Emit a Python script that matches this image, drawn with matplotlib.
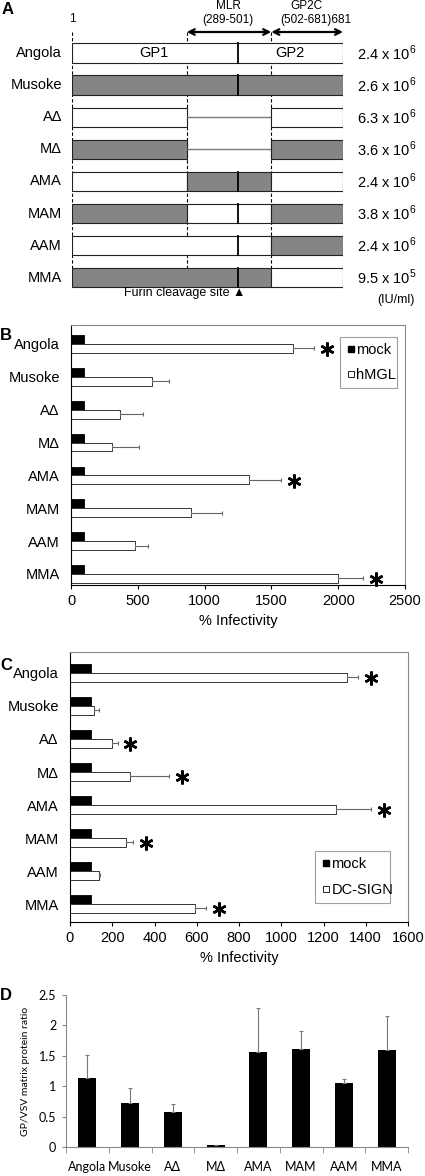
import matplotlib
matplotlib.use("Agg")
import matplotlib.pyplot as plt
from matplotlib.lines import Line2D
from matplotlib.transforms import blended_transform_factory

plt.rcParams['font.family'] = ['Liberation Sans', 'DejaVu Sans']
plt.rcParams['mathtext.fontset'] = 'custom'
plt.rcParams['mathtext.rm'] = 'Liberation Sans'

# ---- data ----
constructs = ["Angola", "Musoke", "AΔ", "MΔ", "AMA", "MAM", "AAM", "MMA"]

# panel A: origin of each region (A = Angola, M = Musoke, None = deleted)
gp1_part = ["A", "M", "A", "M", "A", "M", "A", "M"]
mlr_part = ["A", "M", None, None, "M", "A", "A", "M"]
gp2c_part = ["A", "M", "A", "M", "A", "M", "M", "A"]
region_edges = [1, 289, 501, 681]
furin_site = 417
titer_mant = [2.4, 2.6, 6.3, 3.6, 2.4, 3.8, 2.4, 9.5]
titer_exp = [6, 6, 6, 6, 6, 6, 6, 5]

# panel B: hMGL
mock_b = [100, 100, 100, 100, 100, 100, 100, 100]
hmgl = [1665, 605, 370, 305, 1330, 900, 480, 1995]
hmgl_err = [155, 130, 170, 205, 245, 230, 100, 190]
hmgl_sig = [True, False, False, False, True, False, False, True]

# panel C: DC-SIGN
mock_c = [100, 100, 100, 100, 100, 100, 100, 100]
dcsign = [1310, 115, 200, 285, 1260, 265, 135, 590]
dcsign_err = [55, 20, 25, 185, 165, 35, 5, 55]
dcsign_sig = [True, False, True, True, True, True, False, True]

# panel D: GP / VSV matrix ratio
ratio = [1.13, 0.73, 0.58, 0.03, 1.57, 1.62, 1.05, 1.59]
ratio_err = [0.39, 0.24, 0.12, 0.01, 0.71, 0.28, 0.07, 0.57]

W, H = 425, 1176
fig = plt.figure(figsize=(W / 100, H / 100), dpi=100)


def fx(px):
    return px / W


def fy(py):
    return 1 - py / H


def box(l, t, r, b):
    return [fx(l), fy(b), fx(r) - fx(l), fy(t) - fy(b)]


colors = {"A": "white", "M": "#858585"}

# ---------------- Panel A ----------------
ax = fig.add_axes(box(72, 32, 343, 290))
ax.set_xlim(1, 681)
ax.set_ylim(7.383, -0.654)
ax.axis("off")

ax.vlines(region_edges, -0.654, 6.7, colors="black", linestyles=(0, (3, 2)), lw=0.8, zorder=0)
ax.annotate("", xy=(region_edges[2], -0.654), xytext=(region_edges[1], -0.654),
            arrowprops=dict(arrowstyle="<->", lw=1.6, color="black", shrinkA=0, shrinkB=0))
ax.annotate("", xy=(region_edges[3], -0.654), xytext=(region_edges[2], -0.654),
            arrowprops=dict(arrowstyle="<->", lw=1.6, color="black", shrinkA=0, shrinkB=0))

trow = blended_transform_factory(fig.transFigure, ax.transData)
for i, name in enumerate(constructs):
    parts = [gp1_part[i], mlr_part[i], gp2c_part[i]]
    # merge neighbouring regions of the same origin
    runs = []
    for k, p in enumerate(parts):
        s, e = region_edges[k], region_edges[k + 1]
        if runs and p is not None and runs[-1][2] == p and runs[-1][1] == s:
            runs[-1][1] = e
        else:
            runs.append([s, e, p])
    for s, e, p in runs:
        if p is None:
            ax.plot([s, e], [i, i], color="#777777", lw=1.0, zorder=2)
        else:
            ax.barh(i, e - s, left=s, height=0.6, color=colors[p],
                    edgecolor="#222222", lw=0.8, zorder=2)
    if mlr_part[i] is not None:
        ax.plot([furin_site, furin_site], [i - 0.3, i + 0.3], color="black", lw=1.3, zorder=3)
    ax.text(fx(62), i, name, transform=trow, ha="right", va="center", fontsize=10.5)
    ax.text(fx(357), i, "%.1f x 10$^{%d}$" % (titer_mant[i], titer_exp[i]),
            transform=trow, ha="left", va="center", fontsize=10.5)

ax.text(207, 0, "GP1", ha="center", va="center", fontsize=10.5, zorder=4)
ax.text(548, 0, "GP2", ha="center", va="center", fontsize=10.5, zorder=4)

fig.text(fx(2), fy(10), "A", fontsize=12, fontweight="bold", va="center")
fig.text(fx(72), fy(19), "1", fontsize=8.5, ha="center", va="center")
fig.text(fx(228), fy(6), "MLR", fontsize=8.5, ha="center", va="center")
fig.text(fx(228), fy(20), "(289-501)", fontsize=8.5, ha="center", va="center")
fig.text(fx(306), fy(6), "GP2C", fontsize=8.5, ha="center", va="center")
fig.text(fx(316), fy(20), "(502-681)681", fontsize=8.5, ha="center", va="center")
fig.text(fx(185), fy(293), "Furin cleavage site \u25B2", fontsize=9, ha="center", va="center")
fig.text(fx(415), fy(300), "(IU/ml)", fontsize=9, ha="right", va="center")


# ---------------- Panels B and C ----------------
def infect_panel(rect, ylim, mock, vals, errs, sig, xmax, step, label, letter, letter_y, legend_box):
    ax = fig.add_axes(rect)
    y = list(range(len(constructs)))
    h = 0.27
    ax.barh([v - h / 2 for v in y], mock, height=h, color="black", edgecolor="black", lw=0.6)
    ax.barh([v + h / 2 for v in y], vals, height=h, color="white", edgecolor="#333333", lw=0.7)
    ax.errorbar(vals, [v + h / 2 for v in y], xerr=[[0] * len(vals), errs], fmt="none",
                ecolor="#666666", elinewidth=0.8, capsize=1.5, capthick=0.8)
    for i in y:
        if sig[i]:
            ax.plot(vals[i] + errs[i] + xmax * 0.038, i + 0.16, marker=(6, 2, 0),
                    markersize=10, mew=1.8, color="black", clip_on=False)
    ax.set_xlim(0, xmax)
    ax.set_ylim(*ylim)
    ax.set_xticks(range(0, xmax + 1, step))
    ax.set_yticks(y)
    ax.set_yticklabels(constructs)
    ax.tick_params(axis="y", length=0, pad=8, labelsize=10.5)
    ax.tick_params(axis="x", length=3, labelsize=10.5)
    ax.set_xlabel("% Infectivity", fontsize=10.5, labelpad=4)
    for s in ["top", "right"]:
        ax.spines[s].set_color("#888888")
    ax.spines["left"].set_color("black")
    ax.spines["bottom"].set_color("black")
    handles = [Line2D([], [], marker="s", ls="none", markersize=4, markerfacecolor="black",
                      markeredgecolor="black", label="mock"),
               Line2D([], [], marker="s", ls="none", markersize=4, markerfacecolor="white",
                      markeredgecolor="black", markeredgewidth=0.6, label=label)]
    l, t, r, b = legend_box
    leg = fig.legend(handles=handles, loc="center", bbox_to_anchor=box(l, t, r, b),
                     fancybox=False, frameon=True, fontsize=10.5, handlelength=0.6,
                     handletextpad=0.1, borderpad=0.4, labelspacing=0.8, mode="expand")
    leg.get_frame().set_edgecolor("#888888")
    leg.get_frame().set_linewidth(0.8)
    fig.text(fx(0), fy(letter_y), letter, fontsize=12, fontweight="bold", va="center")
    return ax


infect_panel(box(71, 325, 405, 585), (7.335, -0.578), mock_b, hmgl, hmgl_err, hmgl_sig,
             2500, 500, "hMGL", "B", 335, (333, 335, 404, 390))
infect_panel(box(70, 652, 408, 922), (7.545, -0.636), mock_c, dcsign, dcsign_err, dcsign_sig,
             1600, 200, "DC-SIGN", "C", 665, (308, 849, 397, 905))

# ---------------- Panel D ----------------
axd = fig.add_axes(box(66, 995, 408, 1147))
x = list(range(len(constructs)))
axd.bar(x, ratio, width=0.42, color="black")
axd.errorbar(x, ratio, yerr=[[0] * len(ratio), ratio_err], fmt="none", ecolor="#777777",
             elinewidth=0.8, capsize=1.5, capthick=0.8)
axd.set_xlim(-0.5, len(constructs) - 0.5)
axd.set_ylim(0, 2.5)
axd.set_yticks([0, 0.5, 1, 1.5, 2, 2.5])
axd.set_yticklabels(["0", "0.5", "1", "1.5", "2", "2.5"], family=["Lato", "DejaVu Sans"])
axd.set_xticks(x)
axd.set_xticklabels(constructs, family=["Lato", "DejaVu Sans"])
axd.set_xticks([v - 0.5 for v in range(len(constructs) + 1)], minor=True)
axd.tick_params(axis="x", which="major", length=0, pad=10, labelsize=9)
axd.tick_params(axis="x", which="minor", length=4, color="#888888")
axd.tick_params(axis="y", length=3, color="#888888", labelsize=9, pad=4)
for s in ["top", "right"]:
    axd.spines[s].set_visible(False)
axd.spines["left"].set_color("#888888")
axd.spines["bottom"].set_color("#888888")
axd.set_ylabel("GP/VSV matrix protein ratio", fontsize=7.5, family=["Lato", "DejaVu Sans"], labelpad=6)
fig.text(fx(0), fy(995), "D", fontsize=12, fontweight="bold", va="center")

fig.savefig("out.png", dpi=100)
